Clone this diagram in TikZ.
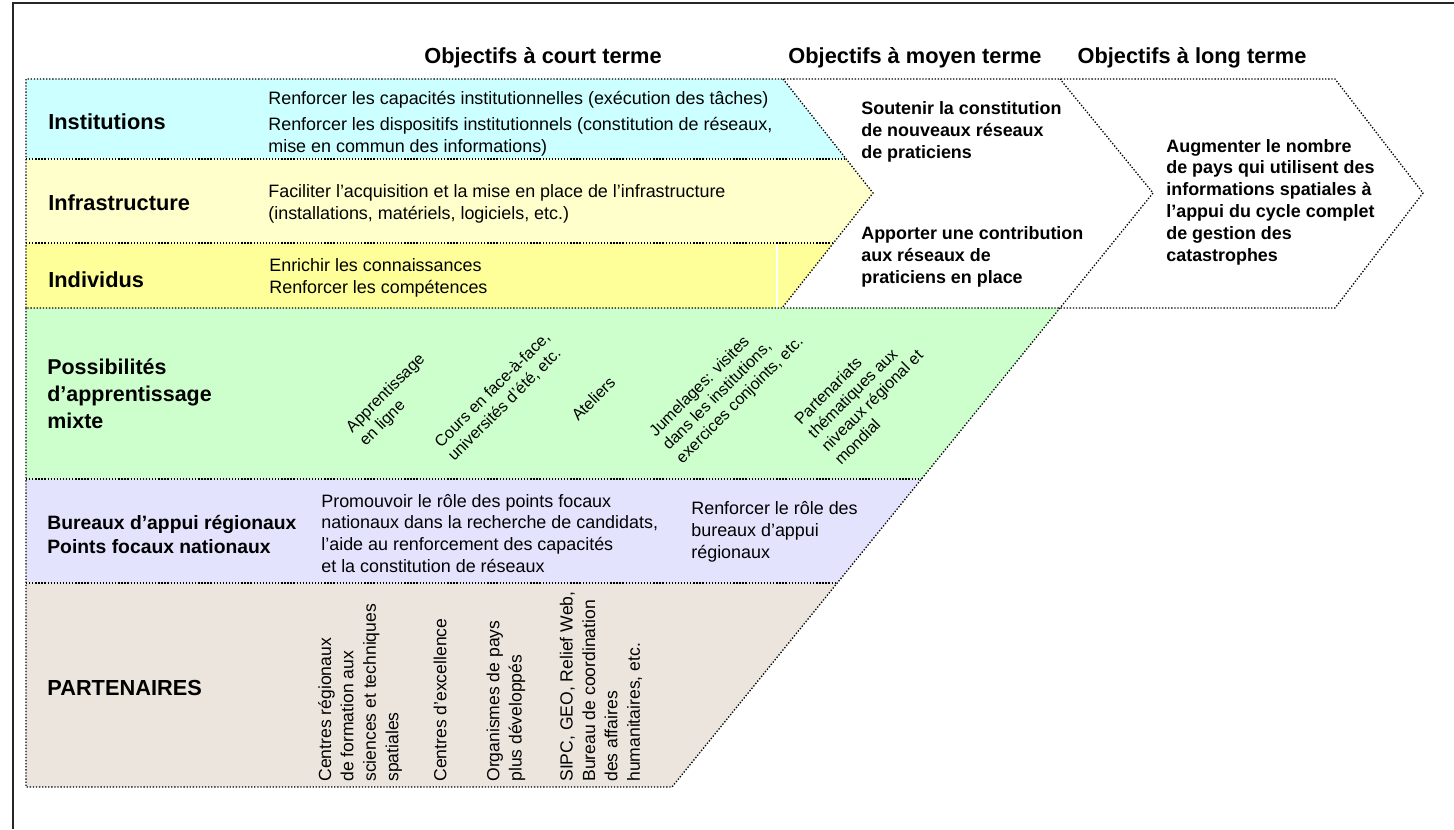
\documentclass[tikz,border=0pt]{standalone}
\usepackage{fontspec}
\setmainfont{Liberation Sans}
\definecolor{cInst}{HTML}{CCFFFF}
\definecolor{cInfra}{HTML}{FFFFCC}
\definecolor{cIndiv}{HTML}{FFFF99}
\definecolor{cPoss}{HTML}{CCFFCC}
\definecolor{cBur}{HTML}{E3E3FD}
\definecolor{cPart}{HTML}{ECE5DD}
\tikzset{
  dotln/.style={draw=black, line width=0.75pt, dash pattern=on 0.75pt off 1pt},
  hdr/.style={font=\fontsize{12.4}{15}\selectfont\bfseries, inner sep=0pt, anchor=base},
  lbl/.style={font=\fontsize{12.4}{15}\selectfont\bfseries, inner sep=0pt, align=left, anchor=base west},
  body/.style={font=\fontsize{10.2}{12.5}\selectfont, inner sep=0pt, align=left, anchor=base west},
  goal/.style={font=\fontsize{10.2}{12.4}\selectfont\bfseries, inner sep=0pt, align=left, anchor=base west},
  diag/.style={font=\fontsize{9.2}{10.8}\selectfont, inner sep=0pt, align=left, anchor=west, rotate=45},
  vert/.style={font=\fontsize{10}{12.75}\selectfont, inner sep=0pt, align=left, anchor=west, rotate=90},
}
\begin{document}
\begin{tikzpicture}[x=0.02cm, y=-0.02cm]
\useasboundingbox (0,0) rectangle (1454,829);
% frame
\draw[line width=1.1pt, black!85] (13,829) -- (13,3) -- (1454,3);
% short-term chevron rows
\begin{scope}
  \clip (26,79) -- (783,79) -- (873,193) -- (782,308) -- (26,308) -- cycle;
  \fill[cInst] (0,79) rectangle (900,159);
  \fill[cInfra] (0,159) rectangle (900,243);
  \fill[cIndiv] (0,243) rectangle (900,308);
  \draw[white, line width=0.6pt] (777,243) -- (777,308);
  \draw[dotln] (26,159) -- (900,159);
  \draw[dotln] (26,243) -- (900,243);
\end{scope}
% lower section rows
\begin{scope}
  \clip (26,308) -- (1060,308) -- (672,787) -- (26,787) -- cycle;
  \fill[cPoss] (0,308) rectangle (1100,479);
  \fill[cBur] (0,479) rectangle (1100,583);
  \fill[cPart] (0,583) rectangle (1100,787);
  \draw[dotln] (26,479) -- (1100,479);
  \draw[dotln] (26,583) -- (1100,583);
\end{scope}
% outlines
\draw[dotln] (26,308) -- (26,79) -- (1335,79) -- (1423,193) -- (1335,308) -- cycle;
\draw[dotln] (26,308) -- (26,787) -- (672,787) -- (1060,308) -- (1153,193) -- (1060,79);
\draw[dotln] (783,79) -- (873,193) -- (782,308);
% headers
\node[hdr] (hshort) at (543,63) {Objectifs à court terme};
\node[hdr] (hmed) at (915,63) {Objectifs à moyen terme};
\node[hdr] (hlong) at (1192,63) {Objectifs à long terme};
% row labels (base = last line)
\node[lbl] (lInst) at (48,129) {Institutions};
\node[lbl] (lInfra) at (48,210) {Infrastructure};
\node[lbl] (lIndiv) at (48,287) {Individus};
\node[lbl, font=\fontsize{12.2}{15.2}\selectfont\bfseries] (lPoss) at (47,428) {Possibilités\\d’apprentissage\\mixte};
\node[lbl, font=\fontsize{11}{13.6}\selectfont\bfseries] (lBur) at (47,553) {Bureaux d’appui régionaux\\Points focaux nationaux};
\node[lbl] (lPart) at (47,695) {PARTENAIRES};
% body texts
\node[body] (tInst1) at (268,104) {Renforcer les capacités institutionnelles (exécution des tâches)};
\node[body] (tInst2) at (268,152) {Renforcer les dispositifs institutionnels (constitution de réseaux,\\mise en commun des informations)};
\node[body] (tInfra) at (268,219) {Faciliter l’acquisition et la mise en place de l’infrastructure\\(installations, matériels, logiciels, etc.)};
\node[body] (tIndiv) at (269,293) {Enrichir les connaissances\\Renforcer les compétences};
\node[body, font=\fontsize{10.2}{12.3}\selectfont] (tBur1) at (321,572) {Promouvoir le rôle des points focaux\\nationaux dans la recherche de candidats,\\l’aide au renforcement des capacités\\et la constitution de réseaux};
\node[body, font=\fontsize{10.2}{12.3}\selectfont] (tBur2) at (691,558) {Renforcer le rôle des\\bureaux d’appui\\régionaux};
% medium / long term
\node[goal] (m1) at (861,158) {Soutenir la constitution\\de nouveaux réseaux\\de praticiens};
\node[goal] (m2) at (861,283) {Apporter une contribution\\aux réseaux de\\praticiens en place};
\node[goal] (g1) at (1166,261) {Augmenter le nombre\\de pays qui utilisent des\\informations spatiales à\\l’appui du cycle complet\\de gestion des\\catastrophes};
% diagonal texts
\node[diag] (d1) at (356,437) {Apprentissage\\en ligne};
\node[diag] (d2) at (444,452) {Cours en face-à-face,\\universités d’été, etc.};
\node[diag] (d3) at (574,418) {Ateliers};
\node[diag] (d4) at (666,448) {Jumelages: visites\\dans les institutions,\\exercices conjoints, etc.};
\node[diag] (d5) at (817,442) {Partenariats\\thématiques aux\\niveaux régional et\\mondial};
% vertical partner texts
\node[vert] (p1) at (360,782) {Centres régionaux\\de formation aux\\sciences et techniques\\spatiales};
\node[vert] (p2) at (440,782) {Centres d’excellence};
\node[vert] (p3) at (506,782) {Organismes de pays\\plus développés};
\node[vert] (p4) at (601,782) {SIPC, GEO, Relief Web,\\Bureau de coordination\\des affaires\\humanitaires, etc.};
\end{tikzpicture}
\end{document}
